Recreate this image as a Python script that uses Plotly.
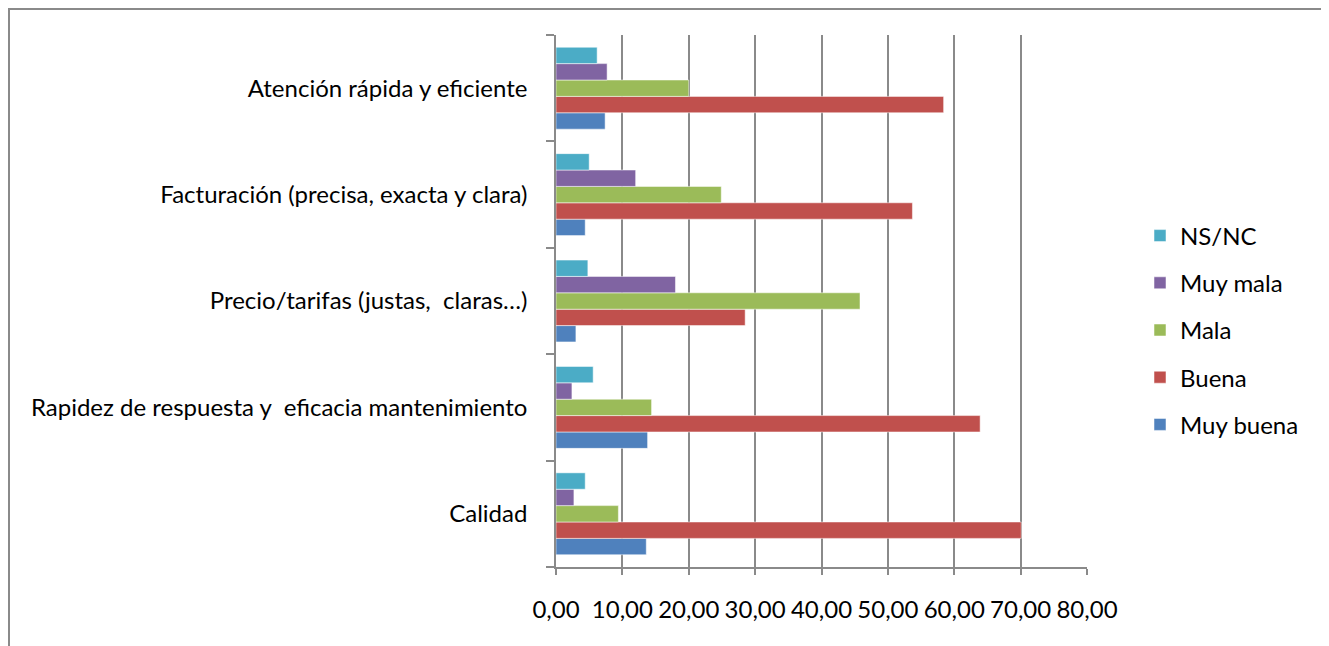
import plotly.graph_objects as go

categories = [
    "Calidad",
    "Rapidez de respuesta y  eficacia mantenimiento",
    "Precio/tarifas (justas,  claras…)",
    "Facturación (precisa, exacta y clara)",
    "Atención rápida y eficiente",
]
series_names = ["Muy buena", "Buena", "Mala", "Muy mala", "NS/NC"]
muy_buena = [13.6, 13.8, 3.0, 4.4, 7.4]
buena = [70.1, 63.9, 28.5, 53.7, 58.4]
mala = [9.4, 14.4, 45.8, 24.9, 20.0]
muy_mala = [2.7, 2.4, 18.0, 12.0, 7.7]
ns_nc = [4.4, 5.6, 4.8, 5.0, 6.2]
colors = ["#4F81BD", "#C0504D", "#9BBB59", "#8064A2", "#4BACC6"]
x_ticks = [0, 10, 20, 30, 40, 50, 60, 70, 80]

# browser body margin offset
OFF = 8
SW, SH = 1329, 646
W, H = SW - OFF, SH - OFF
# plot area in screen pixels
PX0, PX1, PY0, PY1 = 556, 1087, 35, 567
ml, mt = PX0 - OFF, PY0 - OFF
mr, mb = SW - PX1, SH - PY1
pw, ph = PX1 - PX0, PY1 - PY0

def sx(px):
    return (px - PX0) / pw

def sy(py):
    return 1 - (py - PY0) / ph

fig = go.Figure()
series_values = [muy_buena, buena, mala, muy_mala, ns_nc]
for i, (name, vals) in enumerate(zip(series_names, series_values)):
    fig.add_trace(go.Bar(
        y=categories, x=vals, name=name, orientation="h",
        marker=dict(color=colors[i], line=dict(color="rgba(255,255,255,0.5)", width=1)),
        legendgroup=name, legendrank=100 - i,
    ))

grey = "#8a8a8a"
font = "Lato, Carlito, Calibri, sans-serif"
FS = 24

fig.update_layout(
    width=W, height=H,
    margin=dict(l=ml, r=mr, t=mt, b=mb, pad=0, autoexpand=False),
    barmode="group", bargap=0.23, bargroupgap=0,
    plot_bgcolor="white", paper_bgcolor="white",
    separators=",.",
    font=dict(family=font, size=FS, color="black"),
    showlegend=True,
    legend=dict(
        traceorder="grouped", tracegroupgap=13,
        x=sx(1140), xanchor="left",
        y=sy(330), yanchor="middle",
        font=dict(family=font, size=FS, color="black"),
        bgcolor="rgba(0,0,0,0)", itemwidth=30,
    ),
    xaxis=dict(
        range=[0, 80], tickvals=x_ticks, tickformat=".2f",
        showgrid=True, gridcolor=grey, gridwidth=1.5,
        showline=True, linecolor=grey, linewidth=1.5,
        ticks="outside", ticklen=6, tickcolor=grey, tickwidth=1.5,
        zeroline=False, ticklabelstandoff=14,
        tickfont=dict(family=font, size=FS, color="black"),
    ),
    yaxis=dict(
        categoryorder="array", categoryarray=categories,
        showgrid=False, showline=True, linecolor=grey, linewidth=1.5,
        ticks="outside", ticklen=8, tickcolor=grey, tickwidth=1.5,
        tickson="boundaries", ticklabelstandoff=22,
        tickfont=dict(family=font, size=FS, color="black"),
    ),
    shapes=[dict(
        type="rect", xref="paper", yref="paper",
        x0=sx(9), x1=sx(1322),
        y0=sy(670), y1=sy(9),
        line=dict(color=grey, width=2), fillcolor="rgba(0,0,0,0)", layer="below",
    )],
)

fig.write_html("out.html")
